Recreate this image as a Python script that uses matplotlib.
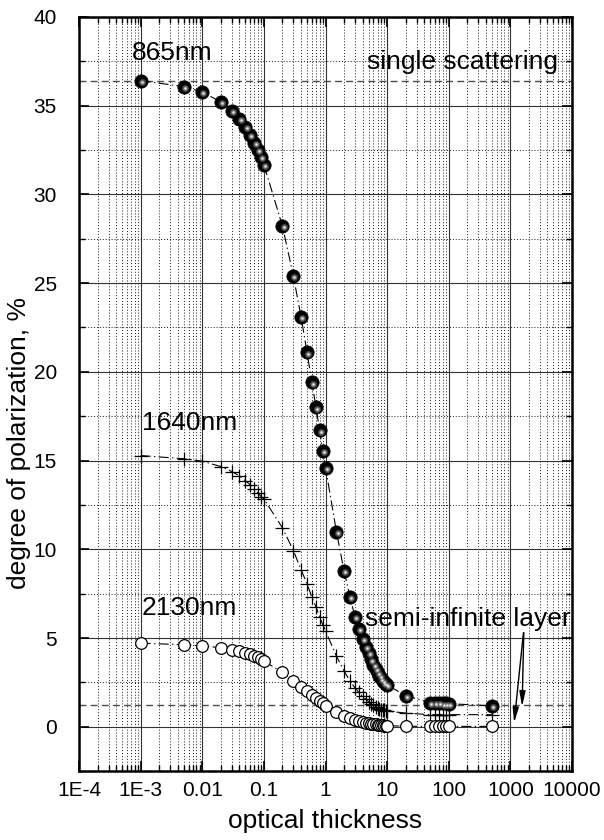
import matplotlib
matplotlib.use("Agg")
import matplotlib.pyplot as plt
from matplotlib.ticker import FixedLocator, MultipleLocator, NullFormatter
from matplotlib.transforms import offset_copy

plt.rcParams['font.family'] = ['Liberation Sans', 'DejaVu Sans']

# optical thickness grid shared by all three wavelengths
tau = [0.001, 0.005, 0.01, 0.02, 0.03, 0.04, 0.05, 0.06, 0.07, 0.08, 0.09,
       0.1, 0.2, 0.3, 0.4, 0.5, 0.6, 0.7, 0.8, 0.9, 1,
       1.5, 2, 2.5, 3, 3.5, 4, 4.5, 5, 5.5, 6, 6.5, 7, 7.5, 8, 8.5, 9, 9.5, 10,
       20, 50, 60, 70, 80, 90, 100, 500]

p865 = [36.4, 36.07, 35.76, 35.2, 34.7, 34.25, 33.8, 33.35, 32.9, 32.5, 32.1,
        31.66, 28.2, 25.4, 23.1, 21.1, 19.4, 18.0, 16.7, 15.55, 14.6,
        11.0, 8.77, 7.3, 6.2, 5.5, 4.95, 4.5, 4.15, 3.8, 3.5, 3.25, 3.05, 2.88,
        2.72, 2.6, 2.5, 2.42, 2.35,
        1.75, 1.35, 1.34, 1.33, 1.32, 1.31, 1.3, 1.18]

p1640 = [15.28, 15.1, 14.96, 14.66, 14.38, 14.14, 13.86, 13.63, 13.39, 13.17, 12.97,
         12.83, 11.2, 9.93, 8.85, 8.06, 7.3, 6.75, 6.2, 5.75, 5.4,
         3.98, 3.15, 2.55, 2.2, 1.93, 1.71, 1.55, 1.42, 1.3, 1.2, 1.12, 1.06, 1.01,
         0.97, 0.94, 0.92, 0.9, 0.88,
         0.77, 0.68, 0.68, 0.68, 0.68, 0.68, 0.68, 0.68]

p2130 = [4.71, 4.62, 4.56, 4.45, 4.34, 4.28, 4.17, 4.1, 4.0, 3.94, 3.83,
         3.7, 3.06, 2.55, 2.25, 1.99, 1.8, 1.6, 1.45, 1.32, 1.18,
         0.81, 0.62, 0.5, 0.4, 0.33, 0.27, 0.23, 0.2, 0.17, 0.15, 0.13, 0.12, 0.1,
         0.09, 0.08, 0.07, 0.07, 0.06,
         0.03, 0.02, 0.02, 0.02, 0.02, 0.02, 0.02, 0.02]

single_scat = 36.4
semi_inf = 1.2

xtick_pos = [1e-4, 1e-3, 1e-2, 1e-1, 1, 10, 100, 1000, 10000]
xtick_lab = ['1E-4', '1E-3', '0.01', '0.1', '1', '10', '100', '1000', '10000']

fig = plt.figure(figsize=(6.04, 8.4), dpi=100)
ax = fig.add_axes([0.131, 0.082, 0.816, 0.898])

ax.set_xscale('log')
ax.set_xlim(1e-4, 1e4)
ax.set_ylim(-2.5, 40)

ax.xaxis.set_major_locator(FixedLocator(xtick_pos))
ax.set_xticklabels(xtick_lab)
ax.xaxis.set_minor_locator(FixedLocator(
    [m * 10.0 ** e for e in range(-4, 4) for m in range(2, 10)]))
ax.xaxis.set_minor_formatter(NullFormatter())
ax.yaxis.set_major_locator(MultipleLocator(5))
ax.yaxis.set_minor_locator(MultipleLocator(2.5))

ax.grid(which='major', color='0.2', lw=0.8, ls='-')
ax.grid(which='minor', color='0.1', lw=0.7, ls=(0, (1, 2)))
ax.set_axisbelow(True)

ax.tick_params(which='both', direction='in', top=True, right=True, labelsize=15)
ax.tick_params(which='major', length=7, width=1.2)
ax.tick_params(which='minor', length=4, width=1.0)
ax.tick_params(axis='x', which='major', pad=7)
ax.tick_params(axis='y', which='major', pad=16)
for s in ax.spines.values():
    s.set_linewidth(1.8)

ax.axhline(single_scat, color='0.3', lw=1.0, ls=(0, (5, 3)), zorder=1.5)
ax.axhline(semi_inf, color='0.3', lw=1.0, ls=(0, (5, 3)), zorder=1.5)

dashdot = (0, (9, 3, 1.2, 3))

ax.plot(tau, p1640, color='k', lw=0.8, ls=dashdot, marker='+', ms=10,
        mew=0.9, zorder=3)
ax.plot(tau, p2130, color='k', lw=0.8, ls=dashdot, marker='o', ms=8.4,
        mfc='white', mec='k', mew=0.9, zorder=4)

# shaded balls for 865 nm
ax.plot(tau, p865, color='k', lw=0.8, ls=dashdot, marker='o', ms=9.6,
        mfc='black', mec='black', mew=0.5, zorder=5)
shine = offset_copy(ax.transData, fig=fig, x=0.8, y=-0.9, units='points')
for ms, col in [(5.2, '#3a3a3a'), (3.6, '#6e6e6e'), (2.2, '#b0b0b0'), (1.1, '#f0f0f0')]:
    ax.plot(tau, p865, ls='none', marker='o', ms=ms, mfc=col, mec='none',
            transform=shine, zorder=6)

txt = dict(fontsize=19, va='center', ha='left', color='k')
ax.text(7.2e-4, 37.95, '865nm', **txt)
ax.text(1.05e-3, 17.1, '1640nm', **txt)
ax.text(1.05e-3, 6.7, '2130nm', **txt)
ax.text(4.7, 37.45, 'single scattering', **txt)
ax.text(4.4, 6.05, 'semi-infinite layer', **txt)

arrow = dict(arrowstyle='-|>,head_length=0.9,head_width=0.18', color='k', lw=1.0,
             shrinkA=0, shrinkB=0)
ax.annotate('', xy=(1150, 0.22), xytext=(1630, 5.3), arrowprops=arrow)
ax.annotate('', xy=(1550, 1.13), xytext=(1650, 5.3), arrowprops=arrow)

ax.set_xlabel('optical thickness', fontsize=19)
ax.set_ylabel('degree of polarization, %', fontsize=19)
ax.xaxis.set_label_coords(0.5, -0.05)
ax.yaxis.set_label_coords(-0.098, 0.435)

fig.savefig('out.png', dpi=100)
